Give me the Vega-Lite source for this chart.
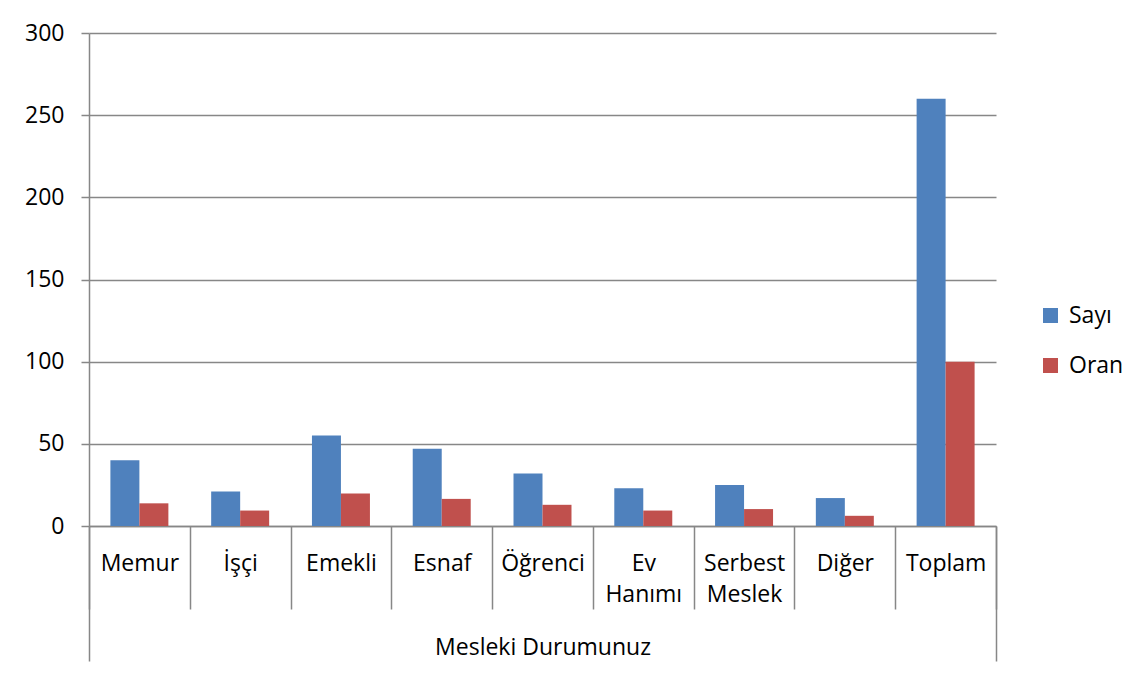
{
  "$schema": "https://vega.github.io/schema/vega-lite/v6.json",
  "width": 907,
  "height": 493,
  "autosize": {"type": "none"},
  "padding": {"left": 89, "top": 33, "right": 141, "bottom": 149},
  "background": "white",
  "config": {
    "view": {"stroke": null},
    "font": "Open Sans",
    "axis": {"labelFont": "Open Sans", "titleFont": "Open Sans", "labelColor": "#000000", "titleColor": "#000000", "titleFontWeight": "normal"},
    "legend": {"labelFont": "Open Sans", "labelColor": "#000000"}
  },
  "data": {
    "values": [
      {"category": "Memur", "series": "Sayı", "value": 40},
      {"category": "Memur", "series": "Oran", "value": 13.8},
      {"category": "İşçi", "series": "Sayı", "value": 21},
      {"category": "İşçi", "series": "Oran", "value": 9.4},
      {"category": "Emekli", "series": "Sayı", "value": 55},
      {"category": "Emekli", "series": "Oran", "value": 19.8},
      {"category": "Esnaf", "series": "Sayı", "value": 47},
      {"category": "Esnaf", "series": "Oran", "value": 16.5},
      {"category": "Öğrenci", "series": "Sayı", "value": 32},
      {"category": "Öğrenci", "series": "Oran", "value": 12.9},
      {"category": "Ev Hanımı", "series": "Sayı", "value": 23},
      {"category": "Ev Hanımı", "series": "Oran", "value": 9.4},
      {"category": "Serbest Meslek", "series": "Sayı", "value": 25},
      {"category": "Serbest Meslek", "series": "Oran", "value": 10.3},
      {"category": "Diğer", "series": "Sayı", "value": 17},
      {"category": "Diğer", "series": "Oran", "value": 6.2},
      {"category": "Toplam", "series": "Sayı", "value": 260},
      {"category": "Toplam", "series": "Oran", "value": 100}
    ]
  },
  "resolve": {"axis": {"x": "independent"}},
  "layer": [
    {
      "mark": {"type": "bar"},
      "encoding": {
        "x": {
          "field": "category",
          "type": "nominal",
          "sort": ["Memur", "İşçi", "Emekli", "Esnaf", "Öğrenci", "Ev Hanımı", "Serbest Meslek", "Diğer", "Toplam"],
          "scale": {"paddingInner": 0, "paddingOuter": 0},
          "axis": {
            "orient": "bottom",
            "title": "Mesleki Durumunuz",
            "titleFontSize": 23,
            "titlePadding": 27,
            "labelAngle": 0,
            "labelFontSize": 23,
            "labelLineHeight": 31,
            "labelPadding": -57,
            "labelOverlap": false,
            "labelBound": false,
            "labelExpr": "datum.value == 'Ev Hanımı' ? ['Ev', 'Hanımı'] : datum.value == 'Serbest Meslek' ? ['Serbest', 'Meslek'] : datum.label",
            "tickBand": "extent",
            "tickSize": 83,
            "tickColor": "#878787",
            "tickWidth": 1.5,
            "domainColor": "#878787",
            "domainWidth": 1.5
          }
        },
        "xOffset": {
          "field": "series",
          "type": "nominal",
          "sort": ["Sayı", "Oran"],
          "scale": {"paddingOuter": 0.738, "paddingInner": 0}
        },
        "y": {
          "field": "value",
          "type": "quantitative",
          "scale": {"domain": [0, 300], "nice": false},
          "axis": {
            "title": null,
            "values": [0, 50, 100, 150, 200, 250, 300],
            "labelFontSize": 23,
            "labelPadding": 17,
            "tickSize": 8,
            "tickColor": "#878787",
            "tickWidth": 1.5,
            "domain": true,
            "domainColor": "#878787",
            "domainWidth": 1.5,
            "grid": true,
            "gridColor": "#878787",
            "gridWidth": 1.5
          }
        },
        "color": {
          "field": "series",
          "type": "nominal",
          "sort": ["Sayı", "Oran"],
          "scale": {"domain": ["Sayı", "Oran"], "range": ["#4F81BD", "#C0504D"]},
          "legend": {
            "title": null,
            "orient": "none",
            "legendX": 950,
            "legendY": 271,
            "padding": 0,
            "symbolType": "square",
            "symbolSize": 225,
            "symbolStrokeWidth": 0,
            "labelFontSize": 23,
            "labelOffset": 7,
            "rowPadding": 26
          }
        }
      }
    },
    {
      "mark": {"type": "rule", "opacity": 0},
      "encoding": {
        "x": {
          "field": "category",
          "type": "nominal",
          "sort": ["Memur", "İşçi", "Emekli", "Esnaf", "Öğrenci", "Ev Hanımı", "Serbest Meslek", "Diğer", "Toplam"],
          "axis": {
            "orient": "bottom",
            "title": null,
            "values": ["Memur"],
            "bandPosition": 0,
            "labels": false,
            "domain": false,
            "grid": false,
            "tickSize": 135,
            "tickColor": "#878787",
            "tickWidth": 1.5
          }
        }
      }
    },
    {
      "mark": {"type": "rule", "opacity": 0},
      "encoding": {
        "x": {
          "field": "category",
          "type": "nominal",
          "sort": ["Memur", "İşçi", "Emekli", "Esnaf", "Öğrenci", "Ev Hanımı", "Serbest Meslek", "Diğer", "Toplam"],
          "axis": {
            "orient": "bottom",
            "title": null,
            "values": ["Toplam"],
            "bandPosition": 1,
            "labels": false,
            "domain": false,
            "grid": false,
            "tickSize": 135,
            "tickColor": "#878787",
            "tickWidth": 1.5
          }
        }
      }
    }
  ]
}
